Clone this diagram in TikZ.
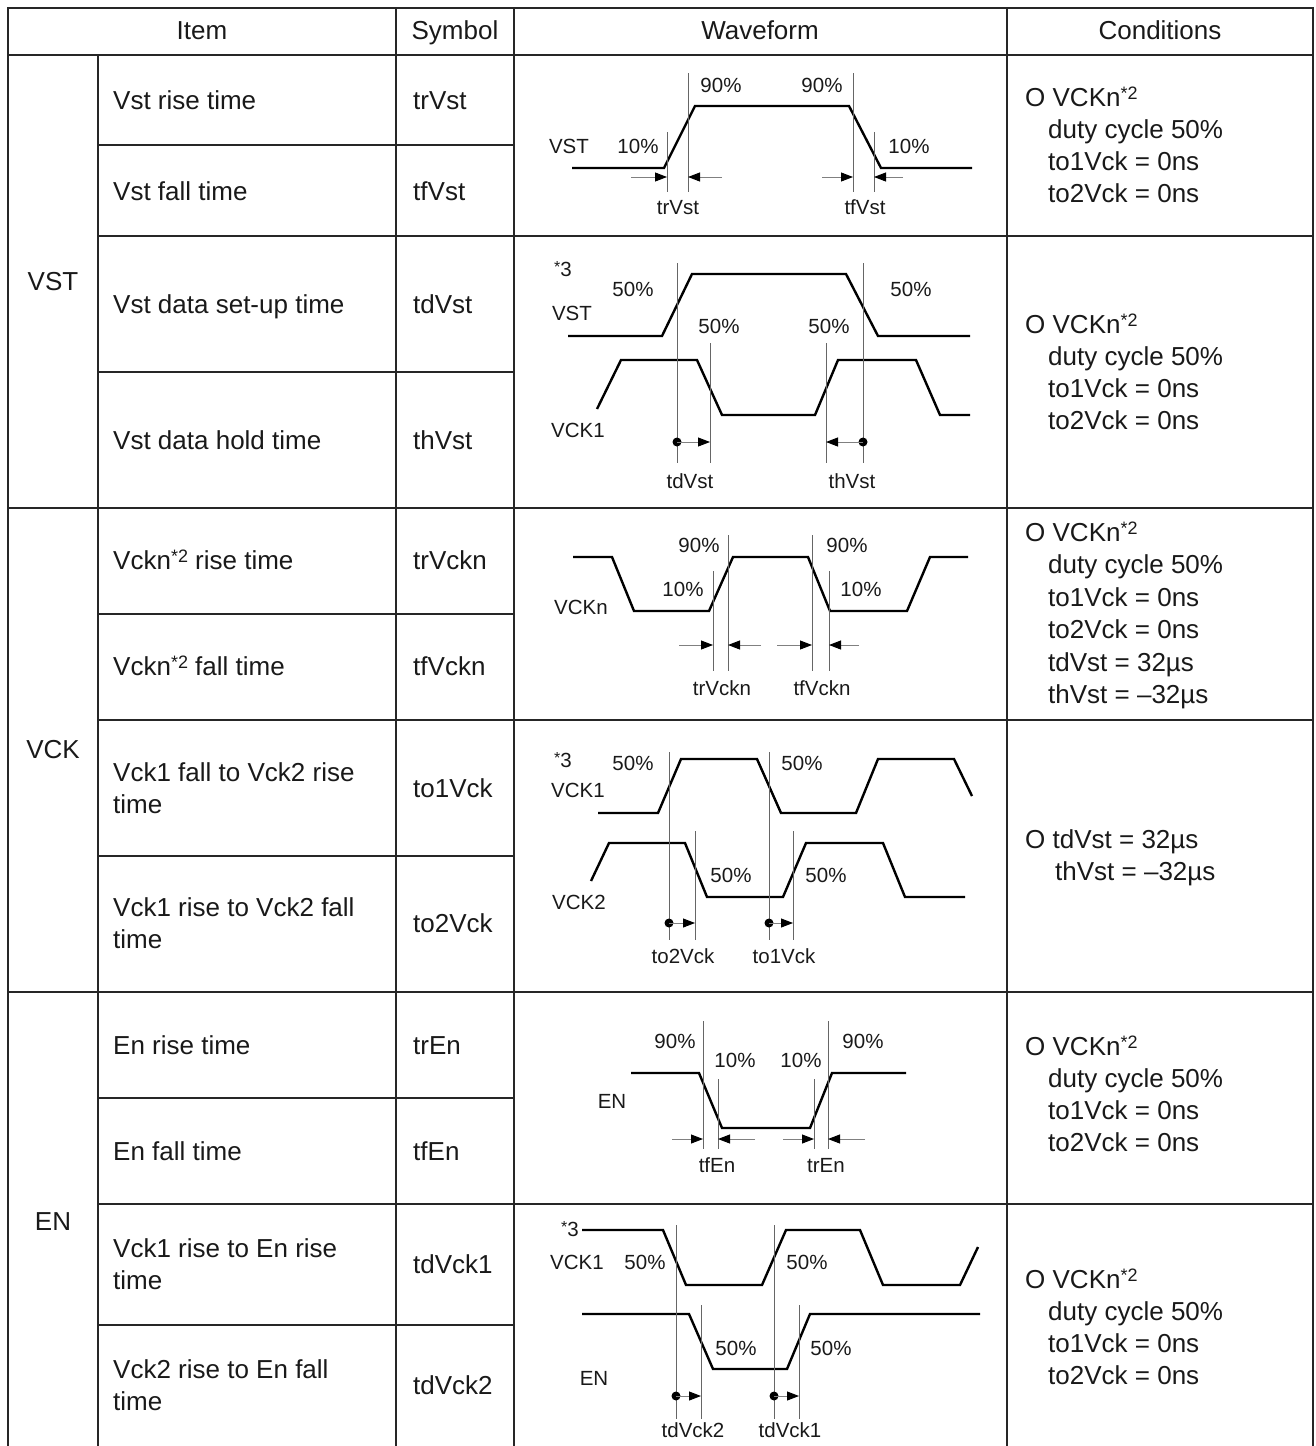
\documentclass[tikz,border=0pt]{standalone}
\usepackage{fontspec}
\setmainfont{Liberation Sans}
\usetikzlibrary{arrows.meta}
\newcommand{\cellfont}{\fontsize{26}{32}\selectfont}
\newcommand{\wavefont}{\fontsize{20.5}{24}\selectfont}
\newcommand{\supnote}[1]{\raisebox{7pt}{\fontsize{18}{18}\selectfont *#1}}
\newcommand{\notethree}{\raisebox{4pt}{\fontsize{16}{16}\selectfont *}3}

\begin{document}
\begin{tikzpicture}[x=1pt,y=-1pt,
  outer/.style={draw=black!85,line width=2.4pt},
  inner/.style={draw=black!85,line width=1.3pt},
  cell/.style={font=\cellfont,text=black!90,anchor=base west,inner sep=0pt},
  head/.style={cell,anchor=base},
  lbl/.style={font=\wavefont,text=black!90,anchor=base,inner sep=0pt},
  wave/.style={draw=black,line width=2.4pt},
  guide/.style={draw=black!60,line width=0.9pt},
  dimarr/.style={draw=black!50,line width=0.9pt,-{Triangle[length=12pt,width=9pt,color=black]}}]
  \useasboundingbox (0,0) rectangle (1316,1446);

  % table rules
  \draw[outer] (8,1446) -- (8,8) -- (1313,8) -- (1313,1446);
  \foreach \y in {55,508,992} \draw[inner] (8,\y) -- (1313,\y);
  \foreach \y in {236,720,1204} \draw[inner] (98,\y) -- (1313,\y);
  \foreach \y in {145,372,614,856,1098,1325} \draw[inner] (98,\y) -- (514,\y);
  \draw[inner] (98,55) -- (98,1446);
  \foreach \x in {396,514,1007} \draw[inner] (\x,8) -- (\x,1446);

  % headers and groups
  \node[head] (hItem) at (202,39) {Item};
  \node[head] (hSym) at (455,39) {Symbol};
  \node[head] (hWave) at (760,39) {Waveform};
  \node[head] (hCond) at (1160,39) {Conditions};
  \node[head] (gVst) at (53,290) {VST};
  \node[head] (gVck) at (53,758) {VCK};
  \node[head] (gEn) at (53,1230) {EN};

  % item column
  \foreach \y/\t [count=\i] in {100/Vst rise time, 191/Vst fall time,
      304/Vst data set-up time, 440/Vst data hold time,
      560/Vckn\supnote{2} rise time, 666/Vckn\supnote{2} fall time,
      772/Vck1 fall to Vck2 rise, 804/time, 907/Vck1 rise to Vck2 fall, 939/time,
      1045/En rise time, 1151/En fall time,
      1248/Vck1 rise to En rise, 1280/time, 1369/Vck2 rise to En fall, 1401/time}
    \node[cell] (item\i) at (113,{\y+9}) {\t};

  % symbol column
  \foreach \y/\t in {100/trVst, 191/tfVst, 304/tdVst, 440/thVst, 560/trVckn,
      666/tfVckn, 788/to1Vck, 923/to2Vck, 1045/trEn, 1151/tfEn,
      1264/tdVck1, 1385/tdVck2}
    \node[cell] (sym-\t) at (413,{\y+9}) {\t};

  % conditions column
  \foreach \n/\y in {cA/97,cB/324,cE/1046,cF/1279} {
    \node[cell] (\n-1) at (1025,{\y+9}) {O VCKn\supnote{2}};
    \node[cell] (\n-2) at (1048,{\y+41}) {duty cycle 50\%};
    \node[cell] (\n-3) at (1048,{\y+73}) {to1Vck = 0ns};
    \node[cell] (\n-4) at (1048,{\y+105}) {to2Vck = 0ns};
  }
  \node[cell] (cC-1) at (1025,541) {O VCKn\supnote{2}};
  \node[cell] (cC-2) at (1048,573) {duty cycle 50\%};
  \node[cell] (cC-3) at (1048,606) {to1Vck = 0ns};
  \node[cell] (cC-4) at (1048,638) {to2Vck = 0ns};
  \node[cell] (cC-5) at (1048,671) {tdVst = 32µs};
  \node[cell] (cC-6) at (1048,703) {thVst = –32µs};
  \node[cell] (cD-1) at (1025,848) {O tdVst = 32µs};
  \node[cell] (cD-2) at (1055,880) {thVst = –32µs};

  % Vst rise / fall
  \draw[wave] (572,168) -- (664,168) -- (695,106) -- (849,106) -- (881,168) -- (972,168);
  \coordinate (trA) at (667,177); \coordinate (trB) at (688,177);
  \coordinate (tfA) at (853,177); \coordinate (tfB) at (874,177);
  \foreach \c/\t in {trA/132,trB/73,tfA/73,tfB/132}
    \draw[guide] (\c |- 0,\t) -- (\c |- 0,192);
  \draw[dimarr] ([xshift=-36pt]trA) -- (trA);
  \draw[dimarr] ([xshift=34pt]trB) -- (trB);
  \draw[dimarr] ([xshift=-31pt]tfA) -- (tfA);
  \draw[dimarr] ([xshift=29pt]tfB) -- (tfB);
  \foreach \x/\y/\t [count=\i] in {721/85/90\%, 822/85/90\%, 569/146/VST,
      638/146/10\%, 909/146/10\%, 678/207/trVst, 865/207/tfVst}
    \node[lbl] (wA\i) at (\x,{\y+7}) {\t};

  % Vst set-up / hold
  \draw[wave] (568,336) -- (662,336) -- (692,274) -- (846,274) -- (878,336) -- (970,336);
  \draw[wave] (597,409) -- (621,360) -- (697,360) -- (722,415) -- (815,415) -- (838,360)
    -- (916,360) -- (940,415) -- (970,415);
  \coordinate (tdA) at (677,442); \coordinate (tdB) at (710,442);
  \coordinate (thA) at (863,442); \coordinate (thB) at (826,442);
  \foreach \c/\t in {tdA/263,tdB/343,thB/343,thA/263}
    \draw[guide] (\c |- 0,\t) -- (\c |- 0,463);
  \fill (tdA) circle (4.5pt); \draw[dimarr] (tdA) -- (tdB);
  \fill (thA) circle (4.5pt); \draw[dimarr] (thA) -- (thB);
  \node[lbl] (wB0) at (563,276) {\notethree};
  \foreach \x/\y/\t [count=\i] in {633/289/50\%, 572/313/VST, 911/289/50\%,
      719/326/50\%, 829/326/50\%, 578/430/VCK1, 690/481/tdVst, 852/481/thVst}
    \node[lbl] (wB\i) at (\x,{\y+7}) {\t};

  % Vckn rise / fall
  \draw[wave] (573,557) -- (612,557) -- (634,611) -- (709,611) -- (733,557) -- (808,557)
    -- (830,611) -- (907,611) -- (930,557) -- (968,557);
  \coordinate (rkA) at (713,645); \coordinate (rkB) at (728,645);
  \coordinate (fkA) at (812,645); \coordinate (fkB) at (829,645);
  \foreach \c/\t in {rkA/571,rkB/535,fkA/535,fkB/571}
    \draw[guide] (\c |- 0,\t) -- (\c |- 0,671);
  \draw[dimarr] ([xshift=-34pt]rkA) -- (rkA);
  \draw[dimarr] ([xshift=33pt]rkB) -- (rkB);
  \draw[dimarr] ([xshift=-35pt]fkA) -- (fkA);
  \draw[dimarr] ([xshift=30pt]fkB) -- (fkB);
  \foreach \x/\y/\t [count=\i] in {581/607/VCKn, 699/545/90\%, 847/545/90\%,
      683/589/10\%, 861/589/10\%, 722/688/trVckn, 822/688/tfVckn}
    \node[lbl] (wC\i) at (\x,{\y+7}) {\t};

  % Vck1 / Vck2 overlap
  \draw[wave] (598,813) -- (658,813) -- (681,759) -- (757,759) -- (781,813) -- (856,813)
    -- (878,759) -- (954,759) -- (972,796);
  \draw[wave] (591,881) -- (609,843) -- (685,843) -- (707,897) -- (783,897) -- (806,843)
    -- (883,843) -- (905,897) -- (965,897);
  \coordinate (otA) at (669,923); \coordinate (otB) at (695,923);
  \coordinate (ooA) at (769,923); \coordinate (ooB) at (793,923);
  \foreach \c/\t in {otA/752,otB/831,ooA/752,ooB/831}
    \draw[guide] (\c |- 0,\t) -- (\c |- 0,940);
  \fill (otA) circle (4.5pt); \draw[dimarr] (otA) -- (otB);
  \fill (ooA) circle (4.5pt); \draw[dimarr] (ooA) -- (ooB);
  \node[lbl] (wD0) at (563,767) {\notethree};
  \foreach \x/\y/\t [count=\i] in {633/763/50\%, 578/790/VCK1, 802/763/50\%,
      579/902/VCK2, 731/875/50\%, 826/875/50\%, 683/956/to2Vck, 784/956/to1Vck}
    \node[lbl] (wD\i) at (\x,{\y+7}) {\t};

  % En rise / fall
  \draw[wave] (631,1073) -- (699,1073) -- (722,1128) -- (810,1128) -- (832,1073) -- (906,1073);
  \coordinate (feA) at (703,1139); \coordinate (feB) at (718,1139);
  \coordinate (reA) at (814,1139); \coordinate (reB) at (828,1139);
  \foreach \c/\t in {feA/1021,feB/1079,reA/1079,reB/1021}
    \draw[guide] (\c |- 0,\t) -- (\c |- 0,1149);
  \draw[dimarr] ([xshift=-31pt]feA) -- (feA);
  \draw[dimarr] ([xshift=37pt]feB) -- (feB);
  \draw[dimarr] ([xshift=-31pt]reA) -- (reA);
  \draw[dimarr] ([xshift=37pt]reB) -- (reB);
  \foreach \x/\y/\t [count=\i] in {612/1101/EN, 675/1041/90\%, 863/1041/90\%,
      735/1060/10\%, 801/1060/10\%, 717/1165/tfEn, 826/1165/trEn}
    \node[lbl] (wE\i) at (\x,{\y+7}) {\t};

  % Vck1 / En delay
  \draw[wave] (582,1230) -- (663,1230) -- (686,1285) -- (762,1285) -- (786,1230) -- (860,1230)
    -- (883,1285) -- (960,1285) -- (978,1247);
  \draw[wave] (582,1314) -- (689,1314) -- (713,1369) -- (787,1369) -- (810,1314) -- (980,1314);
  \coordinate (d2A) at (676,1396); \coordinate (d2B) at (701,1396);
  \coordinate (d1A) at (774,1396); \coordinate (d1B) at (799,1396);
  \foreach \c/\t in {d2A/1225,d2B/1305,d1A/1225,d1B/1305}
    \draw[guide] (\c |- 0,\t) -- (\c |- 0,1419);
  \fill (d2A) circle (4.5pt); \draw[dimarr] (d2A) -- (d2B);
  \fill (d1A) circle (4.5pt); \draw[dimarr] (d1A) -- (d1B);
  \node[lbl] (wF0) at (570,1236) {\notethree};
  \foreach \x/\y/\t [count=\i] in {577/1262/VCK1, 645/1262/50\%, 807/1262/50\%,
      594/1378/EN, 736/1348/50\%, 831/1348/50\%, 693/1430/tdVck2, 790/1430/tdVck1}
    \node[lbl] (wF\i) at (\x,{\y+7}) {\t};
\end{tikzpicture}
\end{document}
